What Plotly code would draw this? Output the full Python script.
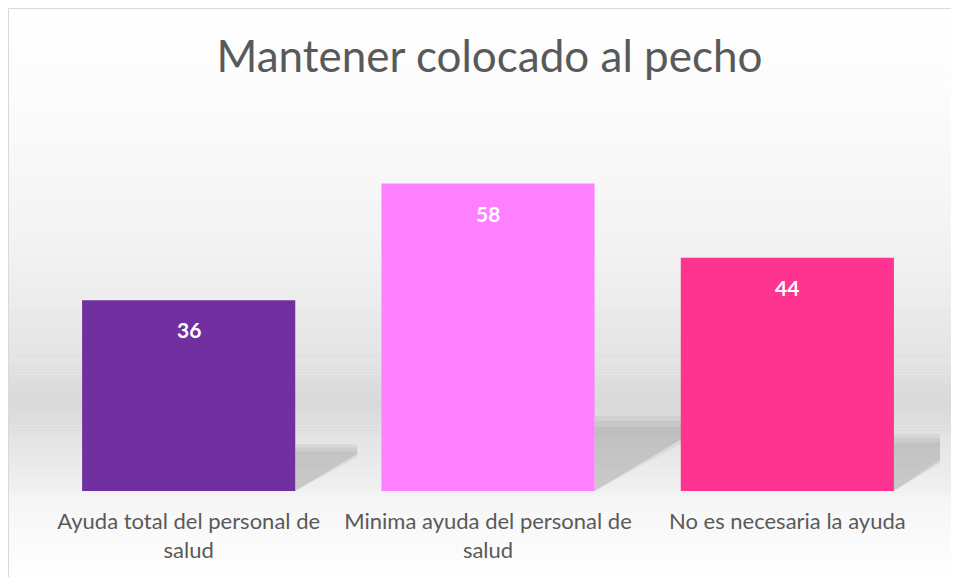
import plotly.graph_objects as go

# data
categorias = ["Ayuda total del personal de salud",
              "Minima ayuda del personal de salud",
              "No es necesaria la ayuda"]
etiquetas = ["Ayuda total del personal de<br>salud",
             "Minima ayuda del personal de<br>salud",
             "No es necesaria la ayuda"]
valores = [36, 58, 44]
colores = ["#7030A0", "#FF80FF", "#FF3390"]

W, H = 959, 577
OFF = 8  # page body margin
# plot area in page pixels: x 39..940, y 120..491
L, R = 39 - OFF, W - (940 - OFF)
T, B = 120 - OFF, H - (491 - OFF)
ymax = 70
px_unit = (H - T - B) / ymax        # pixels per value unit
px_cat = (W - L - R) / len(valores)  # pixels per category

def px_y(py):
    # page pixel row -> paper y
    return (H - B - (py - OFF)) / (H - T - B)

def px_x(px):
    return (px - OFF - L) / (W - L - R)

fig = go.Figure()
fig.add_trace(go.Bar(x=categorias, y=valores, marker_color=colores,
                     marker_line_width=0, width=0.712, hoverinfo="x+y"))

shapes = []
# background "wall" gradient (page pixel row, grey level)
stops = [(8, 255), (130, 250), (250, 242), (350, 229), (402, 217),
         (422, 221), (445, 230), (490, 240), (500, 246), (585, 255)]
for (y0, g0), (y1, g1) in zip(stops[:-1], stops[1:]):
    n = max(1, (y1 - y0) // 3)
    for k in range(n):
        a = y0 + (y1 - y0) * k / n
        b = y0 + (y1 - y0) * (k + 1) / n
        g = round(g0 + (g1 - g0) * (k + 0.5) / n)
        shapes.append(dict(type="rect", xref="paper", yref="paper", layer="below",
                           x0=px_x(OFF), x1=px_x(970), y0=px_y(b + 0.3), y1=px_y(a),
                           fillcolor=f"rgb({g},{g},{g})", line_width=0))

# soft shadows cast behind each bar, sized from the bar height
hw = 0.356
floor_edge = 2 + 0.5 + (943 - 940) / px_cat
for i, v in enumerate(valores):
    xr = i + hw
    s = 0.245 * v                      # shadow height (value units)
    dx = 1.33 * s * px_unit / px_cat   # shadow reach (category units)
    dx = min(dx, floor_edge - xr)
    for grow, op in [(1.0, 0.09), (0.93, 0.09), (0.85, 0.09)]:
        top = s * grow
        rx = dx
        low = 0.6 * rx * px_cat / px_unit * (2 - grow)
        low = min(low, top * 0.85)
        path = (f"M {xr},0 L {xr},{top} L {xr + rx},{top} "
                f"L {xr + rx},{low} Z")
        shapes.append(dict(type="path", xref="x", yref="y", layer="below", path=path,
                           fillcolor=f"rgba(90,90,90,{op})", line_width=0))

# outer chart border
shapes.append(dict(type="rect", xref="paper", yref="paper", layer="above",
                   x0=px_x(OFF + 0.5), x1=px_x(990), y0=px_y(620), y1=px_y(OFF + 0.5),
                   line=dict(color="#d9d9d9", width=1), fillcolor="rgba(0,0,0,0)"))

annotations = []
for c, v in zip(categorias, valores):
    annotations.append(dict(x=c, y=v, text=f"<b>{v}</b>", showarrow=False,
                            yanchor="top", yshift=-15,
                            font=dict(family="Lato", size=21, color="white")))

fig.update_layout(
    width=W, height=H,
    margin=dict(l=L, r=R, t=T, b=B),
    paper_bgcolor="white", plot_bgcolor="rgba(0,0,0,0)",
    title=dict(text="Mantener colocado al pecho", x=0.5, xref="paper",
               y=1 - (57 - OFF) / H, yanchor="middle",
               font=dict(family="Lato", size=44, color="#595959")),
    showlegend=False,
    shapes=shapes,
    annotations=annotations,
    xaxis=dict(tickvals=categorias, ticktext=etiquetas, showgrid=False,
               showline=False, ticks="", ticklabelstandoff=15,
               tickfont=dict(family="Lato", size=22, color="#595959")),
    yaxis=dict(range=[0, ymax], visible=False, showgrid=False),
)

fig.write_html("out.html")
